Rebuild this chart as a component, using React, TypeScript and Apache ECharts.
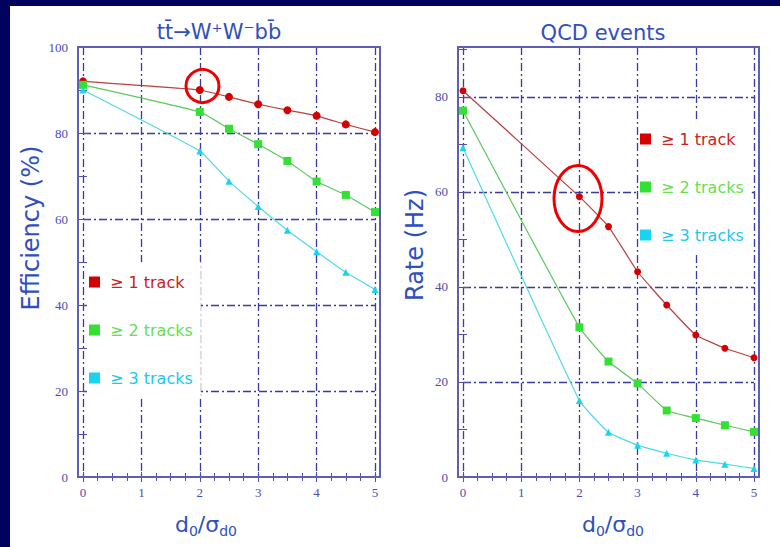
import React, { useEffect, useRef } from "react";
import * as echarts from "echarts";

const xs = [0, 2, 2.5, 3, 3.5, 4, 4.5, 5];
const seriesNames = ["≥ 1 track", "≥ 2 tracks", "≥ 3 tracks"];
const effOne = [92, 90, 88.4, 86.7, 85.3, 84, 82, 80.2];
const effTwo = [91.2, 84.9, 81, 77.4, 73.5, 68.7, 65.6, 61.6];
const effThree = [90, 75.8, 68.8, 62.9, 57.4, 52.4, 47.6, 43.6];
const rateOne = [81.3, 59, 52.7, 43.2, 36.2, 29.9, 27.1, 25.1];
const rateTwo = [77.1, 31.5, 24.3, 19.7, 14.0, 12.4, 10.9, 9.5];
const rateThree = [69.3, 16.1, 9.4, 6.7, 5.0, 3.6, 2.7, 1.8];
const leftTitle = "tt̄→W⁺W⁻bb̄";
const rightTitle = "QCD events";
const leftYName = "Efficiency (%)";
const rightYName = "Rate (Hz)";

const markerColors = ["#d40000", "#33e033", "#18d4f0"];
const lineColors = ["#b84040", "#5ac85a", "#50d8e8"];
const textColors = ["#cc2020", "#66e050", "#20c8ee"];
const symbols = ["circle", "rect", "triangle"];
const gridColor = "#3a3a9c";
const labelColor = "#4c4cb0";
const blue = "#2f4fbf";

export default function App() {
  const ref = useRef<HTMLDivElement>(null);
  useEffect(() => {
    if (!ref.current) return;
    const chart = echarts.init(ref.current, undefined, { renderer: "svg" });
    const dash = [8, 3, 2, 3];
    const xBottom = (gridIndex: number) => ({
      type: "value",
      gridIndex,
      position: "bottom",
      min: 0,
      max: 5,
      interval: 1,
      axisLine: { show: false },
      axisTick: { show: true, inside: true, length: 5, lineStyle: { color: "#5050a8" } },
      minorTick: { show: true, splitNumber: 4, length: 4, lineStyle: { color: "#5050a8" } },
      axisLabel: { color: labelColor, fontFamily: "Liberation Serif", fontSize: 13, margin: 9 },
      splitLine: { show: true, lineStyle: { color: gridColor, width: 1.3, type: dash } },
    });
    const xTop = (gridIndex: number) => ({
      type: "value",
      gridIndex,
      position: "top",
      min: 0,
      max: 5,
      interval: 1,
      axisLine: { show: false },
      axisTick: { show: true, inside: true, length: 5, lineStyle: { color: "#5050a8" } },
      minorTick: { show: true, splitNumber: 4, length: 4, lineStyle: { color: "#5050a8" } },
      axisLabel: { show: false },
      splitLine: { show: false },
    });
    const yLeft = (gridIndex: number, max: number) => ({
      type: "value",
      gridIndex,
      position: "left",
      offset: 5,
      min: 0,
      max,
      interval: 20,
      axisLine: { show: false },
      axisTick: { show: true, inside: true, length: 6, lineStyle: { color: "#5050a8" } },
      minorTick: { show: true, splitNumber: 2, length: 4, lineStyle: { color: "#5050a8" } },
      axisLabel: {
        color: labelColor,
        fontFamily: "Liberation Serif",
        fontSize: 13,
        margin: 10,
        formatter: (v: number) => (v % 20 === 0 ? String(v) : ""),
      },
      splitLine: {
        show: true,
        showMinLine: false,
        showMaxLine: false,
        lineStyle: { color: gridColor, width: 1.3, type: dash },
      },
    });
    const yRight = (gridIndex: number, max: number) => ({
      type: "value",
      gridIndex,
      position: "right",
      offset: 5,
      min: 0,
      max,
      interval: 20,
      axisLine: { show: false },
      axisTick: { show: true, inside: true, length: 6, lineStyle: { color: "#5050a8" } },
      minorTick: { show: true, splitNumber: 2, length: 4, lineStyle: { color: "#5050a8" } },
      axisLabel: { show: false },
      splitLine: { show: false },
    });

    const panelData = [
      [effOne, effTwo, effThree],
      [rateOne, rateTwo, rateThree],
    ];
    const sizes = [
      [8, 8, 7],
      [7, 8, 7],
    ];
    const series: any[] = [];
    panelData.forEach((sets, p) => {
      sets.forEach((vals, i) => {
        series.push({
          type: "line",
          name: seriesNames[i],
          xAxisIndex: p * 2,
          yAxisIndex: p * 2,
          data: xs.map((x, k) => [x, vals[k]]),
          smooth: 0.12,
          symbol: symbols[i],
          symbolSize: sizes[p][i],
          showSymbol: true,
          itemStyle: { color: markerColors[i] },
          lineStyle: { color: lineColors[i], width: 1.2 },
          z: 3,
        });
      });
    });

    const legendData = seriesNames.map((n, i) => ({ name: n, textStyle: { color: textColors[i] } }));
    const legendCommon = {
      orient: "vertical",
      icon: "rect",
      itemWidth: 11,
      itemHeight: 11,
      itemGap: 32,
      backgroundColor: "#ffffff",
      selectedMode: false,
      data: legendData,
      textStyle: { fontFamily: "DejaVu Sans", fontSize: 16, lineHeight: 16, padding: [0, 0, 0, 5] },
    };

    const xNameStyle = (x: number) => ({
      type: "text",
      x,
      y: 524,
      style: {
        text: "{a|d}{b|0}{a|/σ}{b|d0}",
        align: "center",
        verticalAlign: "middle",
        fill: blue,
        rich: {
          a: { fontFamily: "DejaVu Sans", fontSize: 22, lineHeight: 28, fill: blue },
          b: { fontFamily: "DejaVu Sans", fontSize: 14, lineHeight: 14, verticalAlign: "bottom", fill: blue },
        },
      },
    });

    chart.setOption({
      animation: false,
      backgroundColor: "#ffffff",
      grid: [
        { left: 83, top: 47, width: 292, height: 430 },
        { left: 463, top: 47, width: 291, height: 430 },
      ],
      xAxis: [xBottom(0), xTop(0), xBottom(1), xTop(1)],
      yAxis: [yLeft(0, 100), yRight(0, 100), yLeft(1, 90.5), yRight(1, 90.5)],
      legend: [
        { ...legendCommon, left: 87, top: 262, padding: [12, 8, 12, 2] },
        { ...legendCommon, left: 639, top: 119, padding: [12, 8, 12, 1] },
      ],
      series,
      graphic: [
        { type: "rect", shape: { x: 0, y: 0, width: 10, height: 547 }, style: { fill: "#01025e" }, z: 100 },
        { type: "rect", shape: { x: 0, y: 0, width: 780, height: 6 }, style: { fill: "#01025e" }, z: 100 },
        {
          type: "rect",
          shape: { x: 78, y: 47, width: 302, height: 430 },
          style: { fill: "none", stroke: "#5e5eb4", lineWidth: 2 },
          z: 50,
        },
        {
          type: "rect",
          shape: { x: 458, y: 47, width: 301, height: 430 },
          style: { fill: "none", stroke: "#5e5eb4", lineWidth: 2 },
          z: 50,
        },
        {
          type: "text",
          x: 219,
          y: 32,
          style: { text: leftTitle, align: "center", verticalAlign: "middle", fontFamily: "DejaVu Sans", fontSize: 21, fill: blue },
        },
        {
          type: "text",
          x: 603,
          y: 33,
          style: { text: rightTitle, align: "center", verticalAlign: "middle", fontFamily: "DejaVu Sans", fontSize: 21, fill: blue },
        },
        {
          type: "text",
          x: 31,
          y: 228,
          rotation: Math.PI / 2,
          style: { text: leftYName, align: "center", verticalAlign: "middle", fontFamily: "DejaVu Sans", fontSize: 24, fill: blue },
        },
        {
          type: "text",
          x: 415,
          y: 245,
          rotation: Math.PI / 2,
          style: { text: rightYName, align: "center", verticalAlign: "middle", fontFamily: "DejaVu Sans", fontSize: 24, fill: blue },
        },
        xNameStyle(206),
        xNameStyle(613),
        {
          type: "circle",
          shape: { cx: 202.5, cy: 86, r: 16.5 },
          style: { fill: "none", stroke: "#ee0000", lineWidth: 3 },
          z: 100,
        },
        {
          type: "ellipse",
          shape: { cx: 578, cy: 198.5, rx: 24, ry: 33 },
          style: { fill: "none", stroke: "#ee0000", lineWidth: 3 },
          z: 100,
        },
      ],
    });
    return () => chart.dispose();
  }, []);
  return <div ref={ref} style={{ position: "absolute", left: 0, top: 0, width: 780, height: 547 }} />;
}
